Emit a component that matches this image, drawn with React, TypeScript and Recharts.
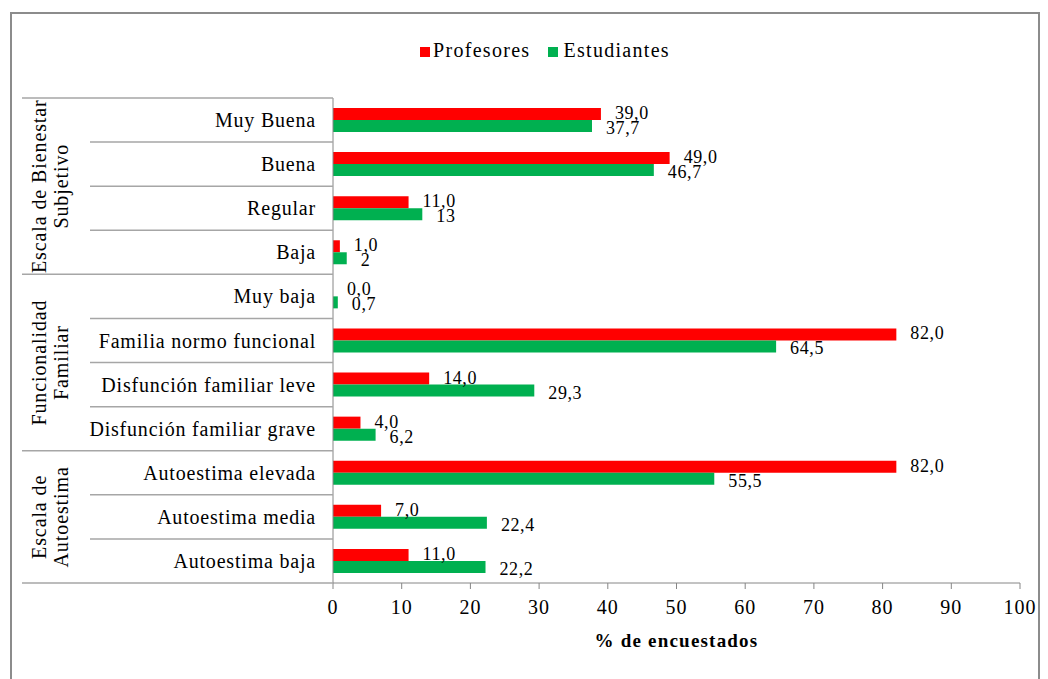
import React from 'react';
import { BarChart, Bar, XAxis, YAxis, Legend, LabelList } from 'recharts';

const categories = [
  'Muy Buena',
  'Buena',
  'Regular',
  'Baja',
  'Muy baja',
  'Familia normo funcional',
  'Disfunción familiar leve',
  'Disfunción familiar grave',
  'Autoestima elevada',
  'Autoestima media',
  'Autoestima baja',
];
const profesores = [39.0, 49.0, 11.0, 1.0, 0.0, 82.0, 14.0, 4.0, 82.0, 7.0, 11.0];
const estudiantes = [37.7, 46.7, 13, 2, 0.7, 64.5, 29.3, 6.2, 55.5, 22.4, 22.2];
const profesoresLabels = ['39,0', '49,0', '11,0', '1,0', '0,0', '82,0', '14,0', '4,0', '82,0', '7,0', '11,0'];
const estudiantesLabels = ['37,7', '46,7', '13', '2', '0,7', '64,5', '29,3', '6,2', '55,5', '22,4', '22,2'];
const seriesNames = ['Profesores', 'Estudiantes'];
const groupNames = [
  ['Escala de Bienestar', 'Subjetivo'],
  ['Funcionalidad', 'Familiar'],
  ['Escala de', 'Autoestima'],
];
const groupStarts = [0, 4, 8];
const groupSizes = [4, 4, 3];
const xTicks = [0, 10, 20, 30, 40, 50, 60, 70, 80, 90, 100];

const data = categories.map((c, i) => ({
  category: c,
  Profesores: profesores[i],
  Estudiantes: estudiantes[i],
  pLabel: profesoresLabels[i],
  eLabel: estudiantesLabels[i],
}));

const FONT = 'Liberation Serif, DejaVu Serif, serif';
const RED = '#FF0000';
const GREEN = '#00B050';
const seriesColors = [RED, GREEN];
const SEP = '#A6A6A6';
const AXIS = '#868686';

function CategoryTick(props: any) {
  const { x, y, payload, index, height } = props;
  const i = payload && payload.index !== undefined ? payload.index : index;
  const half = payload && payload.offset ? payload.offset : height / categories.length / 2;
  const axisX = x + 17;
  const top = y - half;
  const bottom = y + half;
  const gi = groupStarts.indexOf(i);
  const isGroupEnd = groupStarts.some((s, k) => s + groupSizes[k] - 1 === i);
  return (
    <g>
      <text
        x={x}
        y={y}
        textAnchor="end"
        dominantBaseline="central"
        fontFamily={FONT}
        fontSize={20}
        letterSpacing={0.8}
        fill="#000"
      >
        {payload.value}
      </text>
      {i === 0 && <line x1={14} x2={axisX} y1={top} y2={top} stroke={SEP} strokeWidth={1.5} />}
      <line x1={isGroupEnd ? 14 : 82} x2={axisX} y1={bottom} y2={bottom} stroke={SEP} strokeWidth={1.5} />
      {gi >= 0 && (
        <g transform={`translate(38, ${top + groupSizes[gi] * half}) rotate(-90)`}>
          {groupNames[gi].map((line, k) => (
            <text
              key={k}
              x={0}
              y={k * 22}
              textAnchor="middle"
              fontFamily={FONT}
              fontSize={20}
              letterSpacing={0.9}
              fill="#000"
            >
              {line}
            </text>
          ))}
        </g>
      )}
    </g>
  );
}

const labelText = (x: number, y: number, value: any, key?: string) => (
  <text
    key={key}
    x={x}
    y={y}
    dominantBaseline="central"
    fontFamily={FONT}
    fontSize={18}
    letterSpacing={0.6}
    fill="#000"
  >
    {value}
  </text>
);

const makeLabel = (dy: number, isGreen: boolean) => (props: any) => {
  const vb = props.viewBox || {};
  const x = props.x !== undefined ? props.x : vb.x;
  const y = props.y !== undefined ? props.y : vb.y;
  const w = props.width !== undefined ? props.width : vb.width;
  const h = props.height !== undefined ? props.height : vb.height;
  const idx = props.index;
  const items = [labelText(x + w + 14, y + h / 2 + dy, props.value, 'a')];
  if (isGreen && idx !== undefined && profesores[idx] === 0) {
    // Red bar has zero length and gets no label of its own; draw it from the axis origin
    items.push(labelText(x + 14, y - h / 2 - 1, profesoresLabels[idx], 'b'));
  }
  return <g>{items}</g>;
};

const renderLegend = () => (
  <div style={{ display: 'flex', alignItems: 'center', fontFamily: FONT, fontSize: 20, letterSpacing: 1.3 }}>
    {seriesNames.map((name, k) => (
      <div key={k} style={{ display: 'flex', alignItems: 'center', marginRight: 18 }}>
        <div style={{ width: 10, height: 10, background: seriesColors[k], marginRight: k === 0 ? 3 : 5, marginTop: 3 }} />
        <span style={{ color: '#000', lineHeight: '22px' }}>{name}</span>
      </div>
    ))}
  </div>
);

export default function App() {
  return (
    <div style={{ position: 'relative', width: 1040, height: 671, overflow: 'hidden', background: '#fff' }}>
      <div
        style={{
          position: 'absolute',
          left: 2,
          top: 4,
          width: 1030,
          height: 720,
          border: '2px solid #8C8C8C',
          boxSizing: 'border-box',
        }}
      />
      <div style={{ position: 'absolute', left: 0, top: 0 }}>
        <BarChart
          width={1040}
          height={671}
          layout="vertical"
          data={data}
          margin={{ top: 90, right: 28, bottom: 10, left: 10 }}
          barGap={0}
        >
          <XAxis
            type="number"
            domain={[0, 100]}
            ticks={xTicks}
            interval={0}
            height={86}
            tickSize={6}
            tickMargin={11}
            stroke={AXIS}
            tick={{ fill: '#000', fontFamily: FONT, fontSize: 20, letterSpacing: 1 }}
            label={{
              value: '% de encuestados',
              position: 'insideBottom',
              offset: 22,
              fill: '#000',
              fontFamily: FONT,
              fontSize: 19,
              fontWeight: 'bold',
              letterSpacing: 1.2,
            }}
          />
          <YAxis
            type="category"
            dataKey="category"
            width={315}
            interval={0}
            tickSize={0}
            tickMargin={17}
            tickLine={false}
            stroke={AXIS}
            tick={<CategoryTick />}
          />
          <Legend
            verticalAlign="middle"
            align="center"
            layout="horizontal"
            wrapperStyle={{ top: 31, left: 412, width: 330, height: 24 }}
            content={renderLegend}
          />
          <Bar dataKey="Profesores" fill={RED} barSize={12} isAnimationActive={false}>
            <LabelList dataKey="pLabel" content={makeLabel(-1, false)} />
          </Bar>
          <Bar dataKey="Estudiantes" fill={GREEN} barSize={12} isAnimationActive={false}>
            <LabelList dataKey="eLabel" content={makeLabel(2, true)} />
          </Bar>
        </BarChart>
      </div>
    </div>
  );
}
